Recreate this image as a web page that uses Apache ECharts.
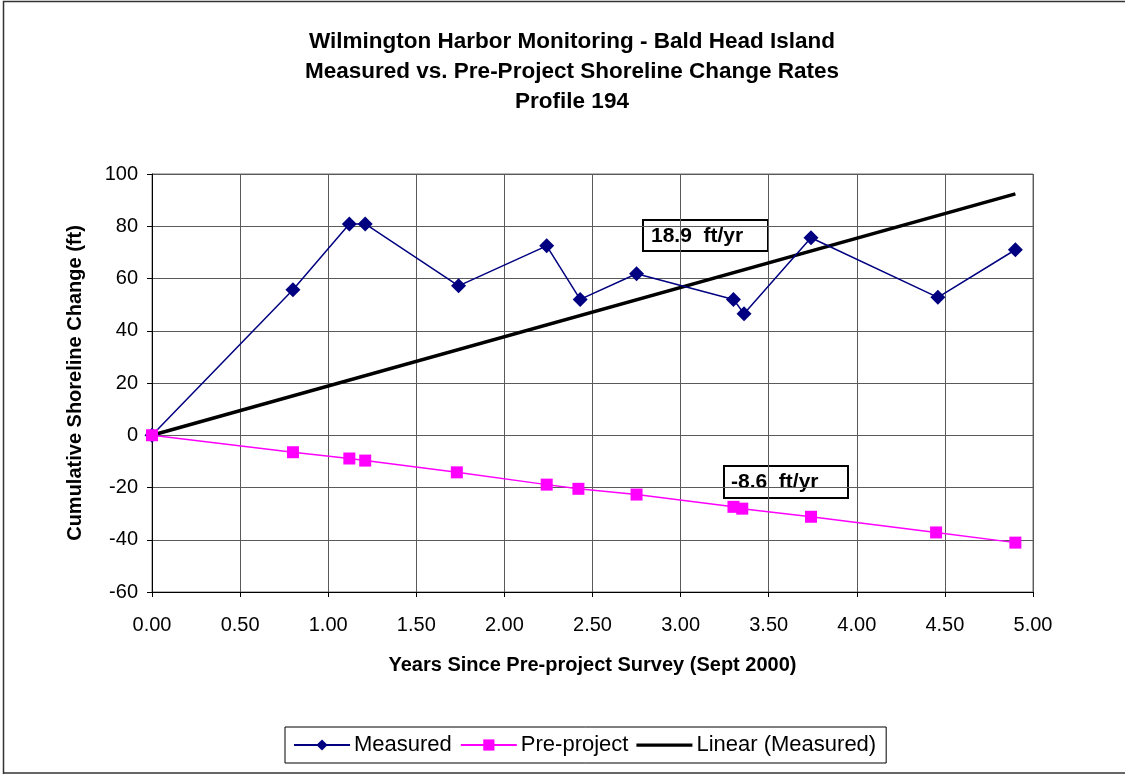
<!DOCTYPE html>
<html>
<head>
<meta charset="utf-8">
<script src="https://cdn.jsdelivr.net/npm/echarts@6/dist/echarts.min.js"></script>
<style>
html,body{margin:0;padding:0;background:#fff;}
#chart{width:1125px;height:774px;}
</style>
</head>
<body>
<div id="chart"></div>
<script>
// Data
const measuredYears = [0, 0.80, 1.12, 1.21, 1.74, 2.24, 2.43, 2.75, 3.30, 3.36, 3.74, 4.46, 4.90];
const measuredChange = [0, 55.7, 80.9, 80.9, 57.2, 72.5, 52.0, 61.8, 52.0, 46.5, 75.6, 52.8, 71.0];
const preYears = [0, 0.80, 1.12, 1.21, 1.73, 2.24, 2.42, 2.75, 3.30, 3.35, 3.74, 4.45, 4.90];
const preChange = [0, -6.5, -8.9, -9.7, -14.2, -18.9, -20.5, -22.7, -27.4, -28.1, -31.2, -37.2, -41.1];
const trendYears = [0, 4.90];
const trendChange = [0, 92.4];
const xTicks = ['0.00','0.50','1.00','1.50','2.00','2.50','3.00','3.50','4.00','4.50','5.00'];
const yTicks = [-60,-40,-20,0,20,40,60,80,100];
const titleLines = ['Wilmington Harbor Monitoring - Bald Head Island','Measured vs. Pre-Project Shoreline Change Rates','Profile 194'];
const measuredRate = '18.9  ft/yr';
const preRate = '-8.6  ft/yr';

const zip = (a, b) => a.map((v, i) => [v, b[i]]);
const FONT = '"Liberation Sans", Arial, sans-serif';
const thickLineIcon = 'path://M0,0L0,0M0,5.6L56,5.6L56,8.8L0,8.8ZM56,14L56,14';

const chart = echarts.init(document.getElementById('chart'), null, {renderer: 'canvas'});
chart.setOption({
  animation: false,
  backgroundColor: '#fff',
  textStyle: {fontFamily: FONT},
  title: {
    text: titleLines.join('\n'),
    left: 567, top: 22, textAlign: 'center',
    textStyle: {fontFamily: FONT, fontSize: 22.5, fontWeight: 'bold', color: '#000', lineHeight: 30}
  },
  grid: {left: 152, top: 174, width: 881, height: 418, show: true, borderColor: '#6e6e6e', borderWidth: 1},
  xAxis: {
    type: 'value', min: 0, max: 5, interval: 0.5,
    name: 'Years Since Pre-project Survey (Sept 2000)',
    nameLocation: 'middle', nameGap: 63,
    nameTextStyle: {fontFamily: FONT, fontSize: 20, fontWeight: 'bold', color: '#000'},
    axisLine: {show: true, onZero: false, lineStyle: {color: '#000', width: 1}},
    axisTick: {show: true, length: 5, lineStyle: {color: '#000'}},
    axisLabel: {fontFamily: FONT, fontSize: 20, color: '#000', margin: 23,
      formatter: v => xTicks[Math.round(v / 0.5)]},
    splitLine: {show: true, lineStyle: {color: '#5a5a5a', width: 1}}
  },
  yAxis: {
    type: 'value', min: -60, max: 100, interval: 20,
    name: 'Cumulative Shoreline Change (ft)',
    nameLocation: 'middle', nameGap: 67,
    nameTextStyle: {fontFamily: FONT, fontSize: 20, fontWeight: 'bold', color: '#000'},
    axisLine: {show: true, onZero: false, lineStyle: {color: '#000', width: 1}},
    axisTick: {show: true, length: 5, lineStyle: {color: '#000'}},
    axisLabel: {fontFamily: FONT, fontSize: 20, color: '#000', margin: 14,
      formatter: v => String(yTicks[Math.round((v + 60) / 20)])},
    splitLine: {show: true, lineStyle: {color: '#5a5a5a', width: 1}}
  },
  legend: {
    left: 285, top: 727,
    orient: 'horizontal',
    padding: [7, 10, 7, 8],
    itemGap: 8,
    itemWidth: 56, itemHeight: 14,
    borderColor: '#000', borderWidth: 1,
    textStyle: {fontFamily: FONT, fontSize: 22, color: '#000', padding: [0, 0, 0, -1]},
    data: [
      {name: 'Measured'},
      {name: 'Pre-project'},
      {name: 'Linear (Measured)', icon: thickLineIcon}
    ]
  },
  series: [
    {
      name: 'Linear (Measured)', type: 'line', data: zip(trendYears, trendChange),
      showSymbol: false, symbol: 'none', z: 2,
      lineStyle: {color: '#000', width: 3.5}, itemStyle: {color: '#000'}
    },
    {
      name: 'Measured', type: 'line', data: zip(measuredYears, measuredChange),
      symbol: 'diamond', symbolSize: 15, z: 3,
      lineStyle: {color: '#000080', width: 1.5}, itemStyle: {color: '#000080'}
    },
    {
      name: 'Pre-project', type: 'line', data: zip(preYears, preChange),
      symbol: 'rect', symbolSize: 12, z: 4,
      lineStyle: {color: '#ff00ff', width: 1.5}, itemStyle: {color: '#ff00ff'}
    }
  ],
  graphic: [
    {type: 'polyline', shape: {points: [[3.5, 774], [3.5, 1.5], [1125, 1.5]]},
     style: {fill: 'none', stroke: '#333', lineWidth: 1.5}, silent: true, z: -10},
    {type: 'line', shape: {x1: 3, y1: 773, x2: 1125, y2: 773},
     style: {stroke: '#333', lineWidth: 1.5}, silent: true, z: -10},
    {type: 'group', left: 642, top: 219, z: 100, children: [
      {type: 'rect', shape: {x: 0, y: 0, width: 125, height: 31}, style: {fill: '#fff', stroke: '#000', lineWidth: 2}},
      {type: 'text', x: 8, y: 16, style: {text: measuredRate, font: 'bold 21px "Liberation Sans", Arial, sans-serif', fill: '#000', verticalAlign: 'middle'}}
    ]},
    {type: 'group', left: 723, top: 465, z: 100, children: [
      {type: 'rect', shape: {x: 0, y: 0, width: 124, height: 32}, style: {fill: '#fff', stroke: '#000', lineWidth: 2}},
      {type: 'text', x: 7, y: 16, style: {text: preRate, font: 'bold 21px "Liberation Sans", Arial, sans-serif', fill: '#000', verticalAlign: 'middle'}}
    ]}
  ]
});
</script>
</body>
</html>
